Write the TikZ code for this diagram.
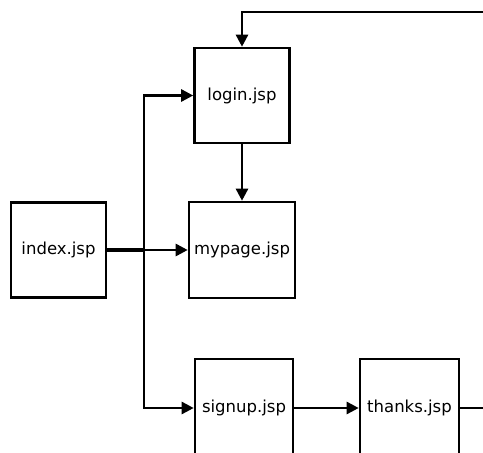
\documentclass[tikz,border=0pt]{standalone}
\usepackage{fontspec}
\setmainfont{DejaVu Sans}
\usetikzlibrary{arrows.meta}
\begin{document}
\begin{tikzpicture}[x=1pt,y=-1pt,
  page/.style={draw=black, line width=2.6pt, fill=white, minimum width=95pt, minimum height=95pt, inner sep=5pt, font=\fontsize{16.5}{19}\selectfont},
  conn/.style={draw=black, line width=2.6pt, -{Triangle[length=12pt,width=12pt]}}]
\useasboundingbox (0,0) rectangle (483,453);
\clip (0,0) rectangle (483,453);
\fill[white] (0,0) rectangle (483,453);
\node[page] (login) at (242,95.5) {login.jsp};
\node[page] (index) at (58.5,250) {index.jsp};
\node[page, minimum height=96pt] (mypage) at (242,250) {mypage.jsp};
\node[page, minimum width=98pt, minimum height=98pt] (signup) at (244,408) {signup.jsp};
\node[page, minimum width=99pt, minimum height=98pt] (thanks) at (409.5,408) {thanks.jsp};
\coordinate (t) at (144,250);
\coordinate (r) at (520,12);
\draw[conn] ([yshift=0.6pt]index.east) -- ([yshift=0.6pt]index.east -| t) |- (login.west);
\draw[conn] ([yshift=-0.6pt]index.east) -- ([yshift=-0.6pt]index.east -| t) |- (signup.west);
\draw[conn] (index.east) -- (mypage.west);
\draw[conn] (login.south) -- (mypage.north);
\draw[conn] (signup.east) -- (thanks.west);
\draw[conn] (thanks.east) -| (r) -| (login.north);
\end{tikzpicture}
\end{document}
